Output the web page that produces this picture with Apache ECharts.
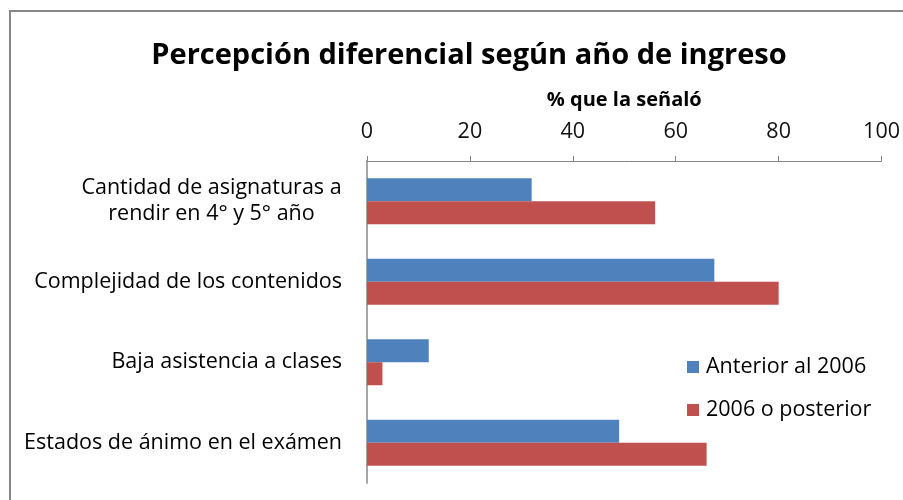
<!DOCTYPE html>
<html>
<head>
<meta charset="utf-8">
<script src="https://cdn.jsdelivr.net/npm/echarts@6/dist/echarts.min.js"></script>
<style>
    html, body { margin: 0; padding: 0; background: #fff; }
    #chart { width: 903px; height: 500px; }
</style>
</head>
<body>
<div id="chart"></div>
<script>
    'use strict';

    var categories = [
        'Cantidad de asignaturas a\nrendir en 4° y 5° año',
        'Complejidad de los contenidos',
        'Baja asistencia a clases',
        'Estados de ánimo en el exámen'
    ];
    var seriesNames = ['Anterior al 2006', '2006 o posterior'];
    var anteriorValues = [32, 67.5, 12, 49];
    var posteriorValues = [56, 80, 3, 66];
    var xTicks = [0, 20, 40, 60, 80, 100];

    var FONT = '"Open Sans"';
    var LABEL_SIZE = 21.5;

    // ancho de la linea mas larga, para centrar la etiqueta de dos lineas
    var ctx = document.createElement('canvas').getContext('2d');
    ctx.font = LABEL_SIZE + 'px ' + FONT;
    function lineWidth(s) {
        return Math.ceil(ctx.measureText(s).width);
    }
    var maxFirst = Math.max.apply(null, categories[0].split('\n').map(lineWidth));

    function formatCategory(value) {
        var lines = value.split('\n');
        if (lines.length === 1) {
            return value;
        }
        return lines.map(function (l) {
            return '{c|' + l + '}';
        }).join('\n');
    }

    var chart = echarts.init(document.getElementById('chart'));
    var option = {
        animation: false,
        backgroundColor: '#fff',
        title: {
            text: 'Percepción diferencial según año de ingreso',
            left: 464,
            top: 36,
            textAlign: 'center',
            textStyle: {
                fontFamily: FONT,
                fontSize: 29,
                fontWeight: 'bold',
                color: '#000'
            }
        },
        legend: {
            orient: 'vertical',
            left: 682,
            top: 351,
            itemWidth: 12,
            itemHeight: 12,
            itemGap: 21,
            icon: 'rect',
            data: seriesNames,
            textStyle: {
                fontFamily: FONT,
                fontSize: LABEL_SIZE,
                color: '#000',
                padding: [0, 0, 0, 2]
            }
        },
        graphic: [{
            type: 'rect',
            shape: { x: 10, y: 11, width: 1000, height: 1000 },
            style: { fill: 'none', stroke: '#868686', lineWidth: 2 },
            silent: true
        }],
        grid: {
            left: 367,
            top: 161,
            width: 516,
            height: 322,
            containLabel: false
        },
        xAxis: {
            type: 'value',
            position: 'top',
            min: 0,
            max: 100,
            interval: 20,
            name: '% que la señaló',
            nameLocation: 'middle',
            nameGap: 51,
            nameTextStyle: {
                fontFamily: FONT,
                fontSize: 20,
                fontWeight: 'bold',
                color: '#000'
            },
            axisLine: { show: true, lineStyle: { color: '#868686', width: 1 } },
            axisTick: { show: true, length: 5, lineStyle: { color: '#868686' } },
            splitLine: { show: false },
            axisLabel: {
                margin: 18,
                fontFamily: FONT,
                fontSize: LABEL_SIZE,
                color: '#111',
                customValues: xTicks
            }
        },
        yAxis: {
            type: 'category',
            inverse: true,
            data: categories,
            axisLine: { show: true, lineStyle: { color: '#A6A6A6', width: 2 } },
            axisTick: { show: false },
            axisLabel: {
                margin: 25,
                fontFamily: FONT,
                fontSize: LABEL_SIZE,
                color: '#000',
                lineHeight: 26,
                formatter: formatCategory,
                rich: {
                    c: {
                        fontFamily: FONT,
                        fontSize: LABEL_SIZE,
                        color: '#000',
                        lineHeight: 26,
                        width: maxFirst,
                        align: 'center'
                    }
                }
            }
        },
        series: [{
            name: seriesNames[0],
            type: 'bar',
            data: anteriorValues,
            barWidth: 23,
            barGap: '0%',
            itemStyle: { color: '#4F81BD' }
        }, {
            name: seriesNames[1],
            type: 'bar',
            data: posteriorValues,
            barWidth: 23,
            barGap: '0%',
            itemStyle: { color: '#C0504D' }
        }]
    };
    chart.setOption(option);
</script>
</body>
</html>
